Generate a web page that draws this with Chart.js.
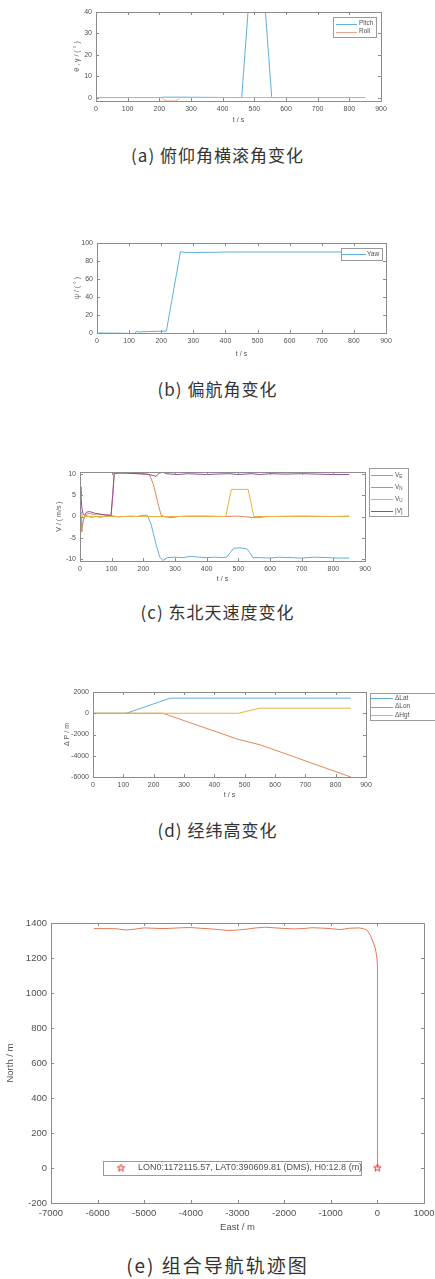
<!DOCTYPE html>
<html>
<head>
<meta charset="utf-8">
<script src="https://cdn.jsdelivr.net/npm/chart.js@4.4.1/dist/chart.umd.min.js"></script>
<style>
  html, body { margin: 0; padding: 0; background: #fff; }
  body { width: 435px; height: 1279px; position: relative; overflow: hidden; }
  .panel { position: absolute; left: 0; }
  .cap { position: absolute; left: 0; width: 435px; text-align: center; font-family: "Noto Sans CJK SC", sans-serif;
         font-size: 17px; line-height: 20px; color: #333; letter-spacing: 1px; }
</style>
</head>
<body>
<div class="panel" style="top:0"><canvas id="cA" width="450" height="130"></canvas></div>
<div class="cap" style="top:145px">(a) 俯仰角横滚角变化</div>
<div class="panel" style="top:215px"><canvas id="cB" width="450" height="150"></canvas></div>
<div class="cap" style="top:379px">(b) 偏航角变化</div>
<div class="panel" style="top:450px"><canvas id="cC" width="450" height="140"></canvas></div>
<div class="cap" style="top:602px">(c) 东北天速度变化</div>
<div class="panel" style="top:675px"><canvas id="cD" width="450" height="130"></canvas></div>
<div class="cap" style="top:820px">(d) 经纬高变化</div>
<div class="panel" style="top:905px"><canvas id="cE" width="450" height="335"></canvas></div>
<div class="cap" style="top:1255px;font-size:19px;letter-spacing:2px">(e) 组合导航轨迹图</div>

<script>
// --- datos ---
const tTicks = [0, 100, 200, 300, 400, 500, 600, 700, 800, 900];

// (a) pitch / roll
const pitchT = [0, 200, 215, 260, 460, 480, 535, 555, 850];
const pitchV = [0, 0, 0.2, 0.2, 0, 40, 40, 0, 0];
const rollT = [0, 208, 214, 222, 250, 258, 265, 850];
const rollV = [0, 0, -1.0, -1.6, -1.6, -1.1, 0, 0];
const angTicks = [0, 10, 20, 30, 40];

// (b) yaw
const yawT = [0, 90, 105, 118, 122, 130, 160, 200, 216, 260, 270, 300, 350, 400, 500, 600, 700, 850];
const yawV = [0, -0.3, -0.8, -0.5, 1.8, 1.2, 1.6, 2.0, 2.1, 90.5, 89.6, 89.5, 89.6, 90, 90, 90, 90, 90];
const yawTicks = [0, 20, 40, 60, 80, 100];

// (c) velocidades
const veT = [0, 3, 6, 9, 13, 18, 25, 35, 50, 65, 80, 100, 120, 140, 160, 180, 200, 213, 225, 240, 252, 262, 275, 300, 325, 350, 375, 400, 425, 450, 463, 475, 485, 505, 526, 536, 546, 570, 600, 630, 660, 700, 740, 780, 820, 850];
const veV = [0, -1, -2.6, -1.2, -0.3, 0.2, 0.1, -0.2, 0, -0.2, 0.1, 0.2, -0.1, 0, 0.1, 0, 0.3, 0.3, -2, -6.5, -9.6, -10.4, -9.7, -9.6, -9.7, -9.4, -9.6, -9.7, -9.6, -9.7, -9.6, -8.5, -7.5, -7.4, -7.6, -8.5, -9.7, -9.7, -9.8, -9.6, -9.7, -9.8, -9.6, -9.7, -9.8, -9.8];
const vnT = [0, 3, 6, 9, 14, 20, 30, 40, 55, 70, 85, 98, 104, 108, 150, 200, 220, 232, 245, 256, 270, 290, 310, 340, 400, 450, 500, 540, 560, 580, 600, 700, 800, 850];
const vnV = [0, -2, -3.7, -1.5, 0, 0.5, 0.8, 0.5, 0.6, 0.4, 0.3, 0.2, 5, 10.2, 10.2, 10, 9.8, 7.5, 3.5, 0.3, -0.1, -0.3, 0, 0.1, 0.1, 0, 0.1, -0.2, -0.3, -0.1, 0, 0.1, 0, 0.1];
const vuT = [0, 3, 6, 9, 14, 460, 478, 531, 549, 850];
const vuV = [0, 1.2, 0.5, -0.4, 0, 0, 6.4, 6.4, 0, 0];
const vT = [0, 3, 6, 10, 15, 20, 30, 45, 60, 80, 98, 103, 108, 130, 160, 190, 215, 228, 240, 250, 262, 272, 290, 310, 340, 370, 400, 430, 470, 500, 540, 570, 600, 650, 700, 750, 800, 850];
const vV = [7, 5, 2, 0.5, 0.3, 1.0, 1.2, 0.8, 0.6, 0.4, 0.3, 5, 10.2, 10.3, 10.2, 10.1, 10.0, 9.7, 9.5, 10.2, 10.5, 10.1, 10, 9.9, 10.1, 10, 9.9, 10, 10.1, 9.9, 10.1, 9.9, 10.1, 10, 10.1, 10, 9.9, 9.9];
const velTicks = [-10, -5, 0, 5, 10];

// (d) incrementos de posición
const latT = [0, 110, 255, 850];
const latV = [0, 0, 1420, 1420];
const lonT = [0, 230, 478, 552, 850];
const lonV = [0, 0, -2450, -2980, -6000];
const hgtT = [0, 480, 550, 850];
const hgtV = [0, 0, 480, 480];
const posTicks = [-6000, -4000, -2000, 0, 2000];

// (e) trayectoria
const eastV = [0, 2, 4, 5, 5, 3, -10, -40, -90, -150, -220, -300, -400, -600, -800, -1000, -1200, -1400, -1600, -1800, -2000, -2200, -2400, -2600, -2800, -3000, -3200, -3400, -3600, -3800, -4000, -4200, -4400, -4600, -4800, -5000, -5200, -5400, -5600, -5800, -6000, -6080];
const northV = [0, 200, 500, 800, 1000, 1150, 1200, 1250, 1290, 1330, 1358, 1368, 1372, 1370, 1362, 1368, 1371, 1373, 1368, 1366, 1369, 1372, 1376, 1372, 1365, 1360, 1357, 1362, 1367, 1370, 1374, 1373, 1370, 1368, 1370, 1372, 1365, 1360, 1367, 1368, 1368, 1369];
const startE = [0];
const startN = [0];
const eastTicks = [-7000, -6000, -5000, -4000, -3000, -2000, -1000, 0, 1000];
const northTicks = [-200, 0, 200, 400, 600, 800, 1000, 1200, 1400];

const C_BLUE = '#5fb0dc';
const C_ORANGE = '#e2845a';
const C_YELLOW = '#e6b43c';
const C_PURPLE = '#8d4f9c';
const C_TRACK = '#e57a55';
const TXT = '#505050';
const FONT = '"Liberation Sans", Arial, sans-serif';

function pts(t, v) {
    return t.map((x, i) => ({ x: x, y: v[i] }));
}

// estrella de cinco puntas para el punto inicial
function makeStar(size, color) {
    const c = document.createElement('canvas');
    c.width = size; c.height = size;
    const g = c.getContext('2d');
    const cx = size / 2, cy = size / 2, r = size / 2 - 0.6, r2 = r * 0.42;
    g.beginPath();
    for (let i = 0; i < 10; i++) {
        const a = -Math.PI / 2 + i * Math.PI / 5;
        const rr = i % 2 ? r2 : r;
        g.lineTo(cx + rr * Math.cos(a), cy + rr * Math.sin(a));
    }
    g.closePath();
    g.strokeStyle = color; g.lineWidth = 1; g.stroke();
    return c;
}
const starImg = makeStar(9, '#e03030');

// caja y marcas hacia adentro, estilo MATLAB
const matlabBox = {
    id: 'matlabBox',
    afterDatasetsDraw(chart, args, opts) {
        const { ctx, chartArea: a, scales } = chart;
        const tl = opts.tick || 3;
        ctx.save();
        ctx.strokeStyle = '#8c8c8c';
        ctx.lineWidth = 1;
        ctx.beginPath();
        scales.x.ticks.forEach(tk => {
            const px = Math.round(scales.x.getPixelForValue(tk.value)) + 0.5;
            ctx.moveTo(px, a.bottom); ctx.lineTo(px, a.bottom - tl);
            ctx.moveTo(px, a.top); ctx.lineTo(px, a.top + tl);
        });
        scales.y.ticks.forEach(tk => {
            const py = Math.round(scales.y.getPixelForValue(tk.value)) + 0.5;
            ctx.moveTo(a.left, py); ctx.lineTo(a.left + tl, py);
            ctx.moveTo(a.right, py); ctx.lineTo(a.right - tl, py);
        });
        ctx.stroke();
        ctx.strokeRect(Math.round(a.left) + 0.5, Math.round(a.top) + 0.5,
            Math.round(a.right - a.left), Math.round(a.bottom - a.top));
        ctx.restore();
    }
};

// leyenda con recuadro en posición fija
const boxLegend = {
    id: 'boxLegend',
    afterDraw(chart, args, o) {
        if (!o || !o.box) return;
        const ctx = chart.ctx;
        const [bx, by, bw, bh] = o.box;
        ctx.save();
        ctx.fillStyle = '#fff';
        ctx.fillRect(bx, by, bw, bh);
        ctx.strokeStyle = '#9a9a9a';
        ctx.lineWidth = 1;
        ctx.strokeRect(bx + 0.5, by + 0.5, bw, bh);
        ctx.textBaseline = 'middle';
        let k = 0;
        chart.data.datasets.forEach(ds => {
            if (!ds.label) return;
            const y = by + o.first + k * o.step;
            if (ds.showLine === false) {
                ctx.drawImage(ds.pointStyle, bx + o.lineX0 - 4.5, y - 4.5);
            } else {
                ctx.strokeStyle = ds.borderColor;
                ctx.beginPath();
                ctx.moveTo(bx + o.lineX0, Math.round(y) + 0.5);
                ctx.lineTo(bx + o.lineX1, Math.round(y) + 0.5);
                ctx.stroke();
            }
            const parts = ds.label.split('_');
            ctx.fillStyle = TXT;
            ctx.font = o.size + 'px ' + FONT;
            ctx.fillText(parts[0], bx + o.textX, y);
            if (parts[1]) {
                const w = ctx.measureText(parts[0]).width;
                ctx.font = (o.size * 0.7) + 'px ' + FONT;
                ctx.fillText(parts[1], bx + o.textX + w, y + 2);
            }
            k++;
        });
        ctx.restore();
    }
};

function makeChart(id, cfg) {
    const f = { family: FONT, size: cfg.size };
    const lh = cfg.size * 0.6;
    return new Chart(document.getElementById(id), {
        type: 'line',
        data: { datasets: cfg.datasets },
        options: {
            responsive: false,
            animation: false,
            layout: { padding: { left: 0, top: cfg.top, right: cfg.right, bottom: 0 } },
            elements: { point: { radius: 0 }, line: { borderWidth: 1, tension: 0 } },
            plugins: {
                legend: { display: false },
                tooltip: { enabled: false },
                matlabBox: { tick: 3 },
                boxLegend: cfg.legend
            },
            scales: {
                x: {
                    type: 'linear', min: cfg.xMin, max: cfg.xMax,
                    grid: { display: false, drawTicks: false }, border: { display: false },
                    afterBuildTicks: s => { s.ticks = cfg.xTicks.map(v => ({ value: v })); },
                    afterFit: s => { s.height = cfg.bottom; },
                    ticks: { font: f, color: TXT, padding: cfg.xPad, maxRotation: 0, autoSkip: false, callback: v => String(v) },
                    title: { display: true, text: cfg.xTitle, font: f, color: TXT, padding: { top: 0, bottom: cfg.xTitleAt - lh } }
                },
                y: {
                    type: 'linear', min: cfg.yMin, max: cfg.yMax,
                    grid: { display: false, drawTicks: false }, border: { display: false },
                    afterBuildTicks: s => { s.ticks = cfg.yTicks.map(v => ({ value: v })); },
                    afterFit: s => { s.width = cfg.left; },
                    ticks: { font: f, color: TXT, padding: 4, autoSkip: false, callback: v => String(v) },
                    title: { display: true, text: cfg.yTitle, font: f, color: TXT, padding: { top: cfg.yTitleAt - lh, bottom: 0 } }
                }
            }
        },
        plugins: [matlabBox, boxLegend]
    });
}

function line(label, t, v, color, i) {
    return { label: label, data: pts(t, v), borderColor: color, borderWidth: 1, pointRadius: 0, order: -i };
}

// (a)
makeChart('cA', {
    size: 7, top: 12, bottom: 29, left: 96, right: 69,
    xMin: 0, xMax: 900, xTicks: tTicks, xPad: 4, xTitle: 't / s', xTitleAt: 10,
    yMin: -1.6, yMax: 40, yTicks: angTicks, yTitle: 'θ , γ / ( ° )', yTitleAt: 77,
    datasets: [line('Pitch', pitchT, pitchV, C_BLUE, 0), line('Roll', rollT, rollV, '#eca88a', 1)],
    legend: { box: [333, 17, 43, 20], first: 6.5, step: 8, lineX0: 3, lineX1: 24, textX: 26, size: 6.5 }
});

// (b)
makeChart('cB', {
    size: 7, top: 28, bottom: 32, left: 97, right: 64,
    xMin: 0, xMax: 900, xTicks: tTicks, xPad: 4, xTitle: 't / s', xTitleAt: 11,
    yMin: 0, yMax: 100, yTicks: yawTicks, yTitle: 'ψ / ( ° )', yTitleAt: 77,
    datasets: [line('Yaw', yawT, yawV, C_BLUE, 0)],
    legend: { box: [341, 33, 41, 12], first: 6, step: 8, lineX0: 1, lineX1: 25, textX: 26, size: 6.5 }
});

// (c)
makeChart('cC', {
    size: 7, top: 22, bottom: 29, left: 80, right: 85,
    xMin: 0, xMax: 900, xTicks: tTicks, xPad: 4, xTitle: 't / s', xTitleAt: 11,
    yMin: -10.5, yMax: 10.5, yTicks: velTicks, yTitle: 'V / ( m/s )', yTitleAt: 59,
    datasets: [
        line('V_E', veT, veV, C_BLUE, 0),
        line('V_N', vnT, vnV, C_ORANGE, 1),
        line('V_U', vuT, vuV, C_YELLOW, 2),
        line('|V|', vT, vV, C_PURPLE, 3)
    ],
    legend: { box: [369, 18, 39, 48], first: 7, step: 12, lineX0: 2, lineX1: 24, textX: 26, size: 6.5 }
});

// (d)
makeChart('cD', {
    size: 7, top: 17, bottom: 28, left: 93, right: 84,
    xMin: 0, xMax: 900, xTicks: tTicks, xPad: 3.5, xTitle: 't / s', xTitleAt: 10,
    yMin: -6000, yMax: 2000, yTicks: posTicks, yTitle: 'Δ P / m', yTitleAt: 67,
    datasets: [
        line('ΔLat', latT, latV, C_BLUE, 0),
        line('ΔLon', lonT, lonV, C_ORANGE, 1),
        line('ΔHgt', hgtT, hgtV, C_YELLOW, 2)
    ],
    legend: { box: [370, 18, 75, 27], first: 5, step: 8.5, lineX0: 1, lineX1: 23, textX: 25, size: 6.5 }
});

// (e)
makeChart('cE', {
    size: 9.5, top: 18, bottom: 37, left: 51, right: 26,
    xMin: -7000, xMax: 1000, xTicks: eastTicks, xPad: 4.5, xTitle: 'East / m', xTitleAt: 13,
    yMin: -200, yMax: 1400, yTicks: northTicks, yTitle: 'North / m', yTitleAt: 10,
    datasets: [
        { label: '', data: pts(eastV, northV), borderColor: C_TRACK, borderWidth: 1, pointRadius: 0, order: 1 },
        { label: 'LON0:1172115.57, LAT0:390609.81 (DMS), H0:12.8 (m)', data: pts(startE, startN), showLine: false,
          pointStyle: starImg, pointRadius: 4.5, borderColor: '#e03030', order: 0 }
    ],
    legend: { box: [103, 256, 258, 14], first: 7, step: 10, lineX0: 18, lineX1: 18, textX: 35, size: 9 }
});
</script>
</body>
</html>
